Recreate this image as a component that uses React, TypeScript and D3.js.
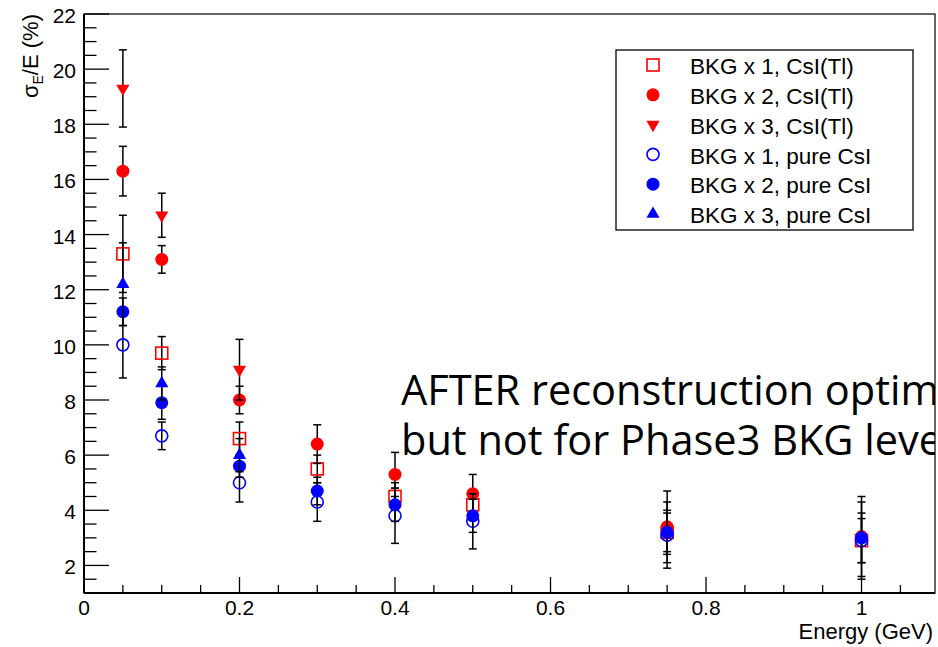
import React, { useRef, useEffect } from 'react';
import * as d3 from 'd3';

// photon energies (GeV)
const energy = [0.05, 0.1, 0.2, 0.3, 0.4, 0.5, 0.75, 1.0];
const energyHighBkg = [0.05, 0.1, 0.2];

// CsI(Tl) resolution (%) and errors
const tlBkg1 = [13.3, 9.7, 6.6, 5.5, 4.5, 4.2, 3.2, 2.9];
const tlBkg1Err = [1.4, 0.6, 0.6, 0.5, 0.5, 0.5, 0.8, 0.8];
const tlBkg2 = [16.3, 13.1, 8.0, 6.4, 5.3, 4.6, 3.4, 3.05];
const tlBkg2Err = [0.9, 0.5, 0.5, 0.7, 0.8, 0.7, 1.3, 1.45];
const tlBkg3 = [19.3, 14.7, 9.1];
const tlBkg3Err = [1.4, 0.8, 1.1];

// pure CsI resolution (%) and errors
const pureBkg1 = [10.0, 6.7, 5.0, 4.3, 3.8, 3.6, 3.1, 2.9];
const pureBkg1Err = [1.2, 0.5, 0.7, 0.7, 1.0, 1.0, 1.2, 1.4];
const pureBkg2 = [11.2, 7.9, 5.6, 4.7, 4.2, 3.8, 3.2, 3.0];
const pureBkg2Err = [0.5, 0.6, 0.4, 0.5, 0.6, 0.6, 0.7, 0.9];
const pureBkg3 = [12.2, 8.6, 6.0];
const pureBkg3Err = [1.5, 0.6, 0.6];

const xTicks = [0, 0.2, 0.4, 0.6, 0.8, 1];
const yTicks = [2, 4, 6, 8, 10, 12, 14, 16, 18, 20, 22];

const series = [
  { label: 'BKG x 1, CsI(Tl)', x: energy, y: tlBkg1, err: tlBkg1Err, color: 'red', shape: 'square', filled: false },
  { label: 'BKG x 2, CsI(Tl)', x: energy, y: tlBkg2, err: tlBkg2Err, color: 'red', shape: 'circle', filled: true },
  { label: 'BKG x 3, CsI(Tl)', x: energyHighBkg, y: tlBkg3, err: tlBkg3Err, color: 'red', shape: 'tridown', filled: true },
  { label: 'BKG x 1, pure CsI', x: energy, y: pureBkg1, err: pureBkg1Err, color: 'blue', shape: 'circle', filled: false },
  { label: 'BKG x 2, pure CsI', x: energy, y: pureBkg2, err: pureBkg2Err, color: 'blue', shape: 'circle', filled: true },
  { label: 'BKG x 3, pure CsI', x: energyHighBkg, y: pureBkg3, err: pureBkg3Err, color: 'blue', shape: 'triup', filled: true },
];

const FONT = '"Liberation Sans", Arial, Helvetica, sans-serif';

const drawMarker = (sel, s, cx, cy) => {
  if (s.shape === 'square') {
    sel.append('rect').attr('x', cx - 6).attr('y', cy - 6).attr('width', 12).attr('height', 12)
      .attr('fill', 'none').attr('stroke', s.color).attr('stroke-width', 1.6);
  } else if (s.shape === 'circle') {
    sel.append('circle').attr('cx', cx).attr('cy', cy).attr('r', s.filled ? 6.5 : 6)
      .attr('fill', s.filled ? s.color : 'none').attr('stroke', s.color)
      .attr('stroke-width', s.filled ? 0 : 1.6);
  } else {
    const rot = s.shape === 'tridown' ? 180 : 0;
    sel.append('path')
      .attr('d', d3.symbol(d3.symbolTriangle, 75)())
      .attr('transform', `translate(${cx},${cy}) rotate(${rot})`)
      .attr('fill', s.color);
  }
};

const ResolutionChart = ({ width, height }) => {
  const svgRef = useRef(null);

  useEffect(() => {
    const svg = d3.select(svgRef.current);
    svg.selectAll('*').remove();

    const left = 84, right = 935, top = 14, bottom = 593;

    const x = d3.scaleLinear().domain([0, 1.0945]).range([left, right]);
    const y = d3.scaleLinear().domain([1, 22]).range([bottom, top]);

    svg.append('defs').append('clipPath').attr('id', 'frameClip')
      .append('rect').attr('x', 0).attr('y', 0).attr('width', right).attr('height', height);

    // frame
    svg.append('rect')
      .attr('x', left).attr('y', top).attr('width', right - left).attr('height', bottom - top)
      .attr('fill', 'none').attr('stroke', 'black').attr('stroke-width', 1.2);

    // y axis ticks
    const yMinor = d3.range(1, 22.01, 0.5);
    svg.append('g').selectAll('line').data(yMinor).enter().append('line')
      .attr('x1', left).attr('x2', d => left + (Math.abs(d % 2) < 1e-6 ? 25 : 12.5))
      .attr('y1', d => y(d)).attr('y2', d => y(d))
      .attr('stroke', 'black').attr('stroke-width', 1.3);
    svg.append('g').selectAll('text').data(yTicks).enter().append('text')
      .attr('x', 76).attr('y', d => y(d) + 1.5).attr('dy', '0.36em')
      .attr('text-anchor', 'end').attr('font-family', FONT).attr('font-size', 21)
      .text(d => d);

    // x axis ticks
    const xMinor = d3.range(0, 1.0945, 0.05);
    svg.append('g').selectAll('line').data(xMinor).enter().append('line')
      .attr('x1', d => x(d)).attr('x2', d => x(d))
      .attr('y1', bottom).attr('y2', (d, i) => bottom - (i % 4 === 0 ? 16 : 8))
      .attr('stroke', 'black').attr('stroke-width', 1.3);
    svg.append('g').selectAll('text').data(xTicks).enter().append('text')
      .attr('x', d => x(d)).attr('y', 615)
      .attr('text-anchor', 'middle').attr('font-family', FONT).attr('font-size', 21)
      .text(d => d);

    // axis lines
    svg.append('line').attr('x1', left).attr('x2', left).attr('y1', top).attr('y2', bottom)
      .attr('stroke', 'black').attr('stroke-width', 2);
    svg.append('line').attr('x1', left).attr('x2', right).attr('y1', bottom).attr('y2', bottom)
      .attr('stroke', 'black').attr('stroke-width', 2);

    // axis titles
    svg.append('text')
      .attr('x', 933).attr('y', 639).attr('text-anchor', 'end')
      .attr('font-family', FONT).attr('font-size', 22)
      .text('Energy (GeV)');

    const yTitle = svg.append('text')
      .attr('transform', 'translate(38,14) rotate(-90)')
      .attr('text-anchor', 'end').attr('font-family', FONT).attr('font-size', 22);
    yTitle.append('tspan').text('σ');
    yTitle.append('tspan').attr('font-size', 14).attr('dy', 5).text('E');
    yTitle.append('tspan').attr('dy', -5).text('/E (%)');

    // data: error bars then markers, series by series
    series.forEach(s => {
      const g = svg.append('g');
      s.x.forEach((xv, i) => {
        const cx = x(xv);
        const y0 = y(s.y[i] - s.err[i]);
        const y1 = y(s.y[i] + s.err[i]);
        g.append('line').attr('x1', cx).attr('x2', cx).attr('y1', y0).attr('y2', y1)
          .attr('stroke', 'black').attr('stroke-width', 1.5);
        [y0, y1].forEach(yc => {
          g.append('line').attr('x1', cx - 4).attr('x2', cx + 4).attr('y1', yc).attr('y2', yc)
            .attr('stroke', 'black').attr('stroke-width', 1.5);
        });
      });
      s.x.forEach((xv, i) => drawMarker(g, s, x(xv), y(s.y[i])));
    });

    // legend
    const leg = svg.append('g');
    leg.append('rect').attr('x', 616).attr('y', 50).attr('width', 297).attr('height', 180)
      .attr('fill', 'white').attr('stroke', 'black').attr('stroke-width', 1.3);
    series.forEach((s, i) => {
      const ly = 65 + i * 29.8;
      drawMarker(leg, s, 653, ly);
      leg.append('text').attr('x', 690).attr('y', ly + 1).attr('dy', '0.36em')
        .attr('font-family', FONT).attr('font-size', 22.5)
        .text(s.label);
    });

    // annotation, clipped at the frame edge as in the original slide
    const note = svg.append('g').attr('clip-path', 'url(#frameClip)');
    note.append('text').attr('x', 401).attr('y', 405)
      .attr('font-family', '"Open Sans", Lato, sans-serif').attr('font-size', 41.5)
      .text('AFTER reconstruction optim');
    note.append('text').attr('x', 401).attr('y', 455)
      .attr('font-family', '"Open Sans", Lato, sans-serif').attr('font-size', 41.5)
      .text('but not for Phase3 BKG leve');
  }, [width, height]);

  return <svg ref={svgRef} width={width} height={height} style={{ display: 'block' }} />;
};

export default function App() {
  return (
    <div style={{ position: 'absolute', left: 0, top: 0, background: 'white' }}>
      <ResolutionChart width={938} height={647} />
    </div>
  );
}
